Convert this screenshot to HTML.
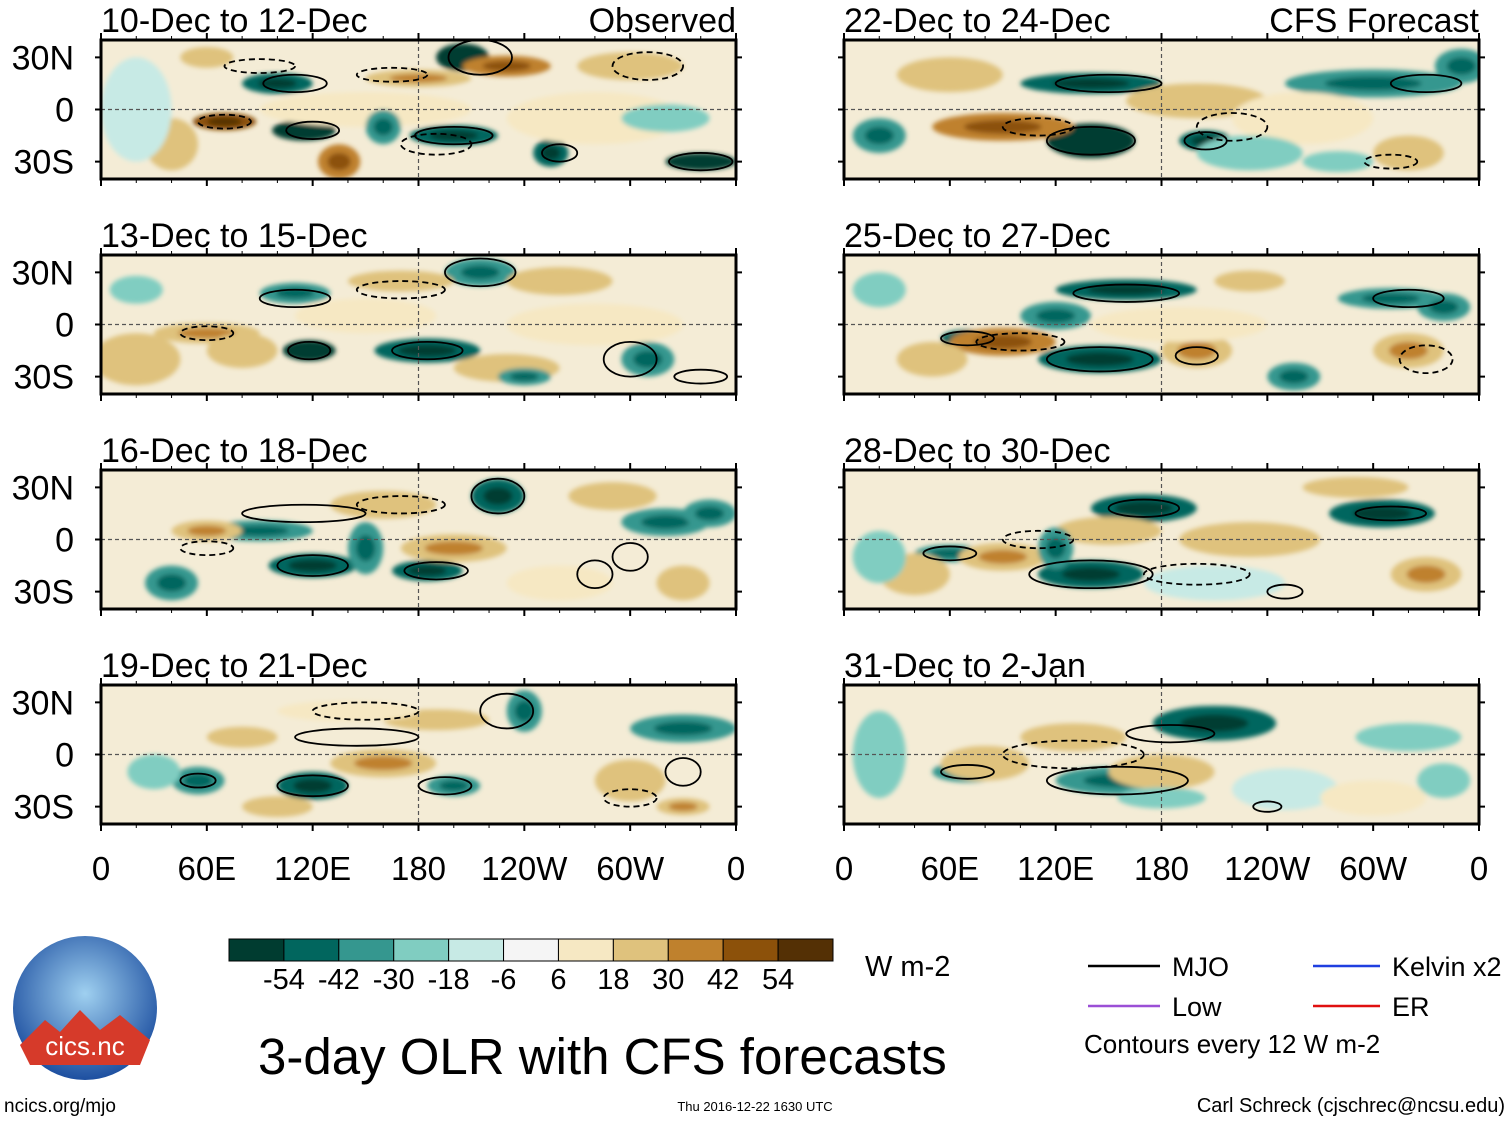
<!DOCTYPE html>
<html><head><meta charset="utf-8">
<style>
body{margin:0;background:#fff;font-family:"Liberation Sans",sans-serif;}
svg text{font-family:"Liberation Sans",sans-serif;}
</style></head>
<body>
<svg id="fig" width="1510" height="1121" viewBox="0 0 1510 1121" xmlns="http://www.w3.org/2000/svg">
<defs>
<filter id="blur" x="-20%" y="-20%" width="140%" height="140%"><feGaussianBlur stdDeviation="2.5"/></filter>
<radialGradient id="logoG" cx="50%" cy="40%" r="60%"><stop offset="0" stop-color="#9fd0f0"/><stop offset="1" stop-color="#1d4fa0"/></radialGradient>
</defs>
<g id="panels"></g>
<g id="colorbar"></g>
<text x="865" y="976" font-size="29">W m-2</text>
<text x="258" y="1074" font-size="51">3-day OLR with CFS forecasts</text>
<g>
<line x1="1088" y1="966" x2="1160" y2="966" stroke="#000" stroke-width="2.5"/>
<text x="1172" y="976" font-size="27">MJO</text>
<line x1="1088" y1="1006" x2="1160" y2="1006" stroke="#9b4fd6" stroke-width="2.5"/>
<text x="1172" y="1016" font-size="27">Low</text>
<line x1="1313" y1="966" x2="1380" y2="966" stroke="#1f3fe0" stroke-width="2.5"/>
<text x="1392" y="976" font-size="27">Kelvin x2</text>
<line x1="1313" y1="1006" x2="1380" y2="1006" stroke="#e01010" stroke-width="2.5"/>
<text x="1392" y="1016" font-size="27">ER</text>
<text x="1084" y="1053" font-size="26">Contours every 12 W m-2</text>
</g>
<g>
<circle cx="85" cy="1008" r="72" fill="url(#logoG)"/>
<path d="M20,1045 L45,1020 L60,1032 L80,1010 L100,1030 L120,1015 L150,1040 L140,1065 L30,1065 Z" fill="#d63a2a"/>
<text x="85" y="1055" font-size="26" fill="#fff" text-anchor="middle">cics.nc</text>
</g>
<text x="4" y="1112" font-size="19">ncics.org/mjo</text>
<text x="755" y="1111" font-size="13" text-anchor="middle">Thu 2016-12-22 1630 UTC</text>
<text x="1505" y="1112" font-size="20" text-anchor="end">Carl Schreck (cjschrec@ncsu.edu)</text>
</svg>
<script>
const panelTitles=["10-Dec to 12-Dec","13-Dec to 15-Dec","16-Dec to 18-Dec","19-Dec to 21-Dec","22-Dec to 24-Dec","25-Dec to 27-Dec","28-Dec to 30-Dec","31-Dec to 2-Jan"];
const latTicks=[30,0,-30];
const latLabels=["30N","0","30S"];
const lonTicks=[0,60,120,180,240,300,360];
const lonLabels=["0","60E","120E","180","120W","60W","0"];
const cbLevels=[-54,-42,-30,-18,-6,6,18,30,42,54];
const cbColors=["#003c30","#01665e","#35978f","#80cdc1","#c7eae5","#f5f5f5","#f6e8c3","#dfc27d","#bf812d","#8c510a","#543005"];
// anomaly blobs per panel: lon, lat, half-width(deg), half-height(deg), value
const blobs=[
 [[100,15,20,6,-50],[115,-12,18,6,-55],[200,-15,25,6,-50],[205,30,15,8,-55],[255,-25,10,8,-50],[340,-30,20,5,-55],[70,-7,18,5,45],[180,18,30,5,30],[135,-30,12,10,35],[300,25,30,8,25],[40,-20,15,15,20],[230,25,25,6,35],[150,0,60,10,15],[280,-5,50,15,8],[20,0,20,30,-10],[60,30,15,6,25],[320,-5,25,8,-20],[160,-10,10,10,-30]],
 [[110,18,20,6,-40],[118,-15,15,6,-55],[185,-15,30,7,-50],[215,30,20,8,-40],[60,-5,30,6,30],[80,-15,20,10,25],[170,25,30,6,25],[260,25,30,8,20],[230,-25,30,8,25],[310,-20,15,10,-30],[20,-20,25,15,20],[150,5,40,10,10],[280,0,50,12,10],[240,-30,15,5,-30],[20,20,15,8,-20]],
 [[120,-15,25,7,-50],[185,-18,20,6,-45],[225,25,15,10,-45],[320,10,25,8,-40],[90,5,30,6,-30],[60,5,20,6,30],[160,20,30,8,25],[200,-5,30,8,30],[290,25,25,8,20],[40,-25,15,10,-30],[260,-25,30,10,15],[330,-25,15,10,25],[150,-5,10,15,-30],[345,15,15,8,-30]],
 [[120,-18,20,8,-50],[200,-18,15,6,-40],[240,25,10,12,-40],[330,15,30,8,-40],[55,-15,15,8,-30],[160,-5,30,8,30],[80,10,20,6,25],[190,20,30,6,20],[300,-15,20,12,20],[330,-30,15,5,30],[140,25,40,6,15],[30,-10,15,10,-25],[100,-30,20,6,25]],
 [[140,-18,25,10,-55],[205,-18,15,6,-50],[140,15,40,6,-45],[300,15,50,8,-30],[350,25,15,10,-40],[90,-10,40,8,35],[200,5,40,10,25],[60,20,30,10,20],[260,-5,40,15,15],[230,-25,30,10,-20],[320,-25,20,10,20],[20,-15,15,10,-30],[280,-30,20,6,-20]],
 [[70,-8,15,5,-45],[145,-20,35,8,-50],[160,20,40,6,-45],[310,15,30,6,-40],[255,-30,15,8,-40],[90,-10,30,8,35],[200,-15,20,10,30],[230,25,20,6,25],[320,-15,20,10,30],[50,-20,20,10,25],[120,5,20,8,-30],[190,0,50,10,10],[340,10,15,8,-30],[20,20,15,10,-20]],
 [[170,18,30,8,-50],[305,15,30,8,-50],[140,-20,30,8,-45],[60,-8,20,5,-40],[210,-25,40,10,-15],[90,-10,25,8,30],[150,5,30,8,25],[230,0,40,10,20],[330,-20,20,10,30],[40,-20,20,12,20],[290,30,30,6,25],[20,-10,15,15,-25],[120,-5,10,12,-35]],
 [[210,18,35,10,-50],[155,-15,35,8,-40],[70,-10,20,6,-30],[320,10,30,8,-25],[130,10,30,8,25],[180,-10,30,10,20],[250,-20,30,12,-15],[80,-5,25,10,20],[20,0,15,25,-20],[300,-25,30,10,15],[180,-25,25,6,-25],[340,-15,15,10,-25]]
];
// contours per panel: lon, lat, half-width, half-height, dashed(1)/solid(0)
const contours=[
 [[110,15,18,5,0],[120,-12,15,5,0],[200,-15,22,5,0],[215,30,18,10,0],[260,-25,10,5,0],[340,-30,18,5,0],[70,-7,15,4,1],[165,20,20,4,1],[190,-20,20,6,1],[310,25,20,8,1],[90,25,20,4,1]],
 [[110,15,20,5,0],[118,-15,12,5,0],[185,-15,20,5,0],[215,30,20,8,0],[60,-5,15,4,1],[170,20,25,5,1],[300,-20,15,10,0],[340,-30,15,4,0]],
 [[120,-15,20,6,0],[190,-18,18,5,0],[115,15,35,5,0],[225,25,15,10,0],[60,-5,15,4,1],[170,20,25,5,1],[280,-20,10,8,0],[300,-10,10,8,0]],
 [[120,-18,20,6,0],[195,-18,15,5,0],[145,10,35,5,0],[230,25,15,10,0],[55,-15,10,4,0],[150,25,30,5,1],[330,-10,10,8,0],[300,-25,15,5,1]],
 [[140,-18,25,8,0],[205,-18,12,5,0],[150,15,30,5,0],[330,15,20,5,0],[110,-10,20,5,1],[220,-10,20,8,1],[310,-30,15,4,1]],
 [[145,-20,30,7,0],[70,-8,15,4,0],[160,18,30,5,0],[320,15,20,5,0],[200,-18,12,5,0],[100,-10,25,5,1],[330,-20,15,8,1]],
 [[140,-20,35,8,0],[170,18,20,5,0],[310,15,20,4,0],[60,-8,15,4,0],[200,-20,30,6,1],[110,0,20,5,1],[250,-30,10,4,0]],
 [[155,-15,40,8,0],[185,12,25,5,0],[70,-10,15,4,0],[130,0,40,8,1],[240,-30,8,3,0]]
];
const NS="http://www.w3.org/2000/svg";
const svg=document.getElementById('fig');
const pg=document.getElementById('panels');
function mk(t,a,p){const e=document.createElementNS(NS,t);for(const k in a)e.setAttribute(k,a[k]);(p||svg).appendChild(e);return e;}
function colorFor(v){let i=0;while(i<cbLevels.length&&v>cbLevels[i])i++;return cbColors[i];}
const PW=635, PH=139;
for(let p=0;p<8;p++){
  const col=p<4?0:1,row=p%4;
  const x0=col?844:101, y0=40+row*215;
  const xs=lon=>x0+lon/360*PW;
  const ys=lat=>y0+PH/2-lat/40*(PH/2);
  const g=mk('g',{},pg);
  
  
  const cid='clip'+p;
  const cp=mk('clipPath',{id:cid},g);mk('rect',{x:x0,y:y0,width:PW,height:PH},cp);
  const inner=mk('g',{'clip-path':'url(#'+cid+')'},g);
  mk('rect',{x:x0,y:y0,width:PW,height:PH,fill:'#f4ecd6'},inner);
  const bg=mk('g',{filter:'url(#blur)'},inner);
  blobs[p].forEach(b=>{
    const e=mk('ellipse',{cx:xs(b[0]),cy:ys(b[1]),rx:b[2]/360*PW,ry:b[3]/40*PH/2,fill:colorFor(b[4])},bg);
    
    
    if(Math.abs(b[4])>=30){mk('ellipse',{cx:xs(b[0]),cy:ys(b[1]),rx:b[2]/360*PW*0.55,ry:b[3]/40*PH/4,fill:colorFor(b[4]>0?b[4]+12:b[4]-12)},bg);}
  });
  mk('line',{x1:x0,y1:ys(0),x2:x0+PW,y2:ys(0),stroke:'#555','stroke-dasharray':'4,3','stroke-width':1.2},inner);
  mk('line',{x1:xs(180),y1:y0,x2:xs(180),y2:y0+PH,stroke:'#555','stroke-dasharray':'4,3','stroke-width':1.2},inner);
  contours[p].forEach(c=>{
    const e=mk('ellipse',{cx:xs(c[0]),cy:ys(c[1]),rx:c[2]/360*PW,ry:c[3]/40*PH/2,fill:'none',stroke:'#000','stroke-width':1.8},inner);
    if(c[4])e.setAttribute('stroke-dasharray','6,4');
    
    
  });
  mk('rect',{x:x0,y:y0,width:PW,height:PH,fill:'none',stroke:'#000','stroke-width':3},g);
  lonTicks.forEach((l,i)=>{
    mk('line',{x1:xs(l),y1:y0+PH,x2:xs(l),y2:y0+PH+7,stroke:'#000','stroke-width':2},g);
    mk('line',{x1:xs(l),y1:y0,x2:xs(l),y2:y0-7,stroke:'#000','stroke-width':2},g);
  });
  for(let l=0;l<=360;l+=20){mk('line',{x1:xs(l),y1:y0+PH,x2:xs(l),y2:y0+PH+4,stroke:'#000','stroke-width':1},g);mk('line',{x1:xs(l),y1:y0,x2:xs(l),y2:y0-4,stroke:'#000','stroke-width':1},g);}
  latTicks.forEach((l,i)=>{
    mk('line',{x1:x0,y1:ys(l),x2:x0-6,y2:ys(l),stroke:'#000','stroke-width':2},g);
    mk('line',{x1:x0+PW,y1:ys(l),x2:x0+PW+6,y2:ys(l),stroke:'#000','stroke-width':2},g);
    if(!col){const t=mk('text',{x:74,y:ys(l)+12,'font-size':34,'text-anchor':'end'},g);t.textContent=latLabels[i];
      
      }
  });
  const tt=mk('text',{x:x0,y:y0-8,'font-size':34},g);tt.textContent=panelTitles[p];
  
  
  if(p===0||p===4){const s=mk('text',{x:x0+PW,y:y0-8,'font-size':34,'text-anchor':'end'},g);s.textContent=p?'CFS Forecast':'Observed';
    
    }
  if(row===3){lonTicks.forEach((l,i)=>{const t=mk('text',{x:xs(l),y:880,'font-size':33,'text-anchor':'middle'},g);t.textContent=lonLabels[i];
    
    });}
}
const cb=document.getElementById('colorbar');
const cbx=229,cbw=604/cbColors.length;
cbColors.forEach((c,i)=>{const r=mk('rect',{x:cbx+i*cbw,y:939,width:cbw,height:22,fill:c,stroke:'#000','stroke-width':1},cb);
  
  });
cbLevels.forEach((v,i)=>{const t=mk('text',{x:cbx+(i+1)*cbw,y:989,'font-size':29,'text-anchor':'middle'},cb);t.textContent=v;
  
  });
</script>
</body></html>
